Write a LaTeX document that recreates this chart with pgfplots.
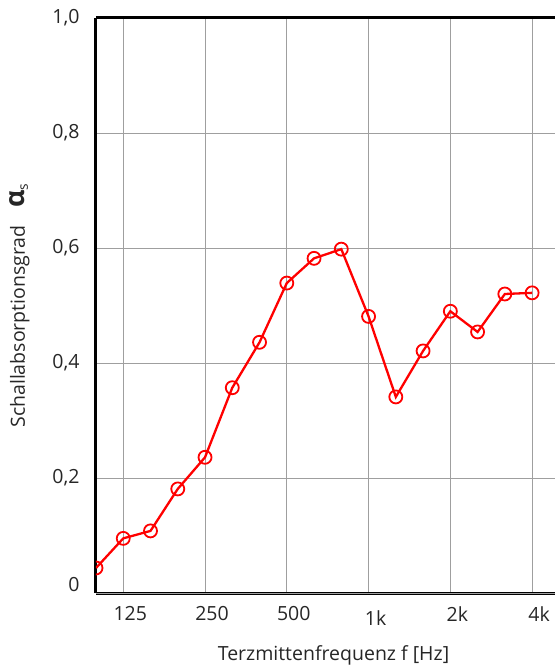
\documentclass[border=0pt]{standalone}
\usepackage{fontspec}
\setmainfont{Open Sans}
\usepackage{pgfplots}
\pgfplotsset{compat=1.18}
\begin{document}
\begin{tikzpicture}
\begin{axis}[
  name=ax,
  scale only axis,
  width=459pt, height=575pt,
  xmin=0, xmax=16.84, ymin=0, ymax=1,
  separate axis lines,
  axis x line=box,
  axis y line=left,
  x axis line style={line width=3pt,-},
  y axis line style={line width=3pt,-},
  xtick={1,4,7,10,13,16},
  xticklabels={125,250,500,\raisebox{-4pt}[\height][0pt]{1k},2k,4k},
  xticklabel style={xshift=7pt, yshift=-10pt},
  ytick={0.2,0.4,0.6,0.8,1.0},
  yticklabels={{0,2},{0,4},{0,6},{0,8},{1,0}},
  extra y ticks={0},
  extra y tick labels={0},
  extra y tick style={yticklabel style={yshift=8pt}},
  yticklabel style={xshift=-13pt},
  major tick length=0pt,
  tick label style={font=\fontsize{19.5}{22}\selectfont, text=black!85},
  grid=major,
  major grid style={gray!75, line width=0.8pt},
  xlabel={Terzmittenfrequenz f [Hz]},
  ylabel={Schallabsorptionsgrad\hspace{0.9em}{\fontsize{27}{27}\selectfont\textbf{α}}\textsubscript{s}},
  label style={font=\fontsize{19.5}{22}\selectfont, text=black!85},
  xlabel style={at={(axis description cs:0.5,0)}, anchor=center, yshift=-62pt, xshift=8pt},
  ylabel style={yshift=16pt},
  clip=true,
  clip marker paths=true,
]
\addplot[red, line width=2.3pt, mark=o, mark size=6.5pt,
  mark options={fill=white, line width=1.8pt, solid}]
  table {
x y
0 0.0435
1 0.095
2 0.108
3 0.181
4 0.236
5 0.357
6 0.436
7 0.539
8 0.582
9 0.598
10 0.481
11 0.341
12 0.421
13 0.490
14 0.454
15 0.520
16 0.522
};
\end{axis}
\pgfresetboundingbox
\path ([shift={(-96pt,-76pt)}]ax.south west) rectangle ([shift={(0pt,18pt)}]ax.north east);
\end{tikzpicture}
\end{document}
